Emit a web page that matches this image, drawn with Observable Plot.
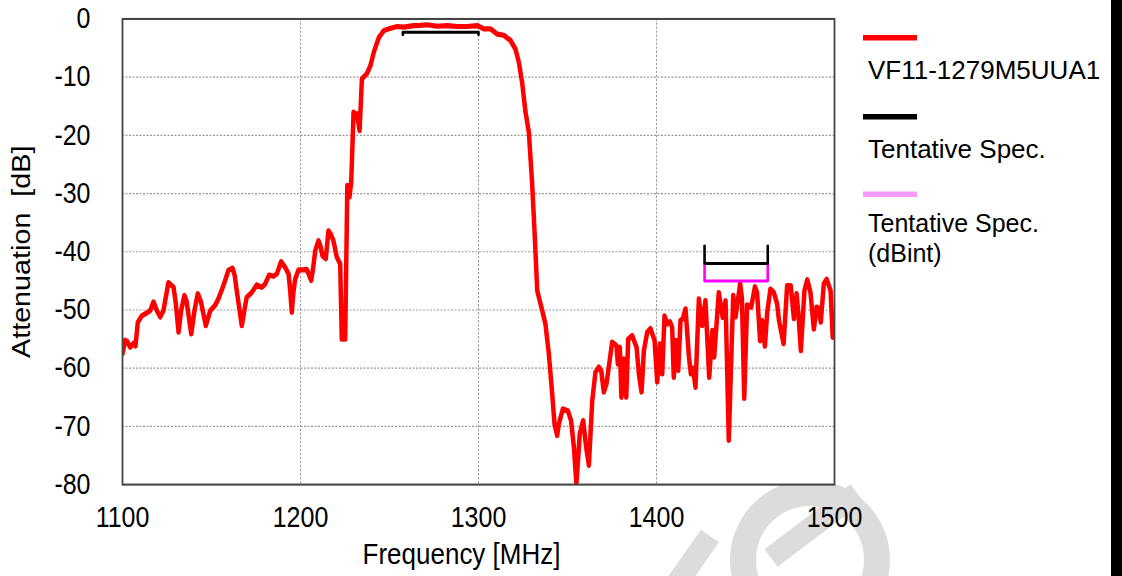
<!DOCTYPE html>
<html><head><meta charset="utf-8">
<script src="https://cdn.jsdelivr.net/npm/d3@7"></script>
<script src="https://cdn.jsdelivr.net/npm/@observablehq/plot@0.6"></script>
<style>
html,body{margin:0;padding:0;background:#fff;}
#wrap{position:relative;width:1122px;height:576px;overflow:hidden;font-family:"Liberation Sans",Arial,sans-serif;}
#wm,#chart,#legend{position:absolute;left:0;top:0;}
#bar{position:absolute;left:1111px;top:0;width:11px;height:576px;background:#000;}
</style></head><body>
<div id="wrap">
<svg id="wm" width="1122" height="576">
  <g stroke="#dcdcdc" fill="none">
    <circle cx="810" cy="560" r="67" stroke-width="26"/>
    <line x1="857" y1="493" x2="771" y2="558" stroke-width="22"/>
    <line x1="672" y1="590" x2="710" y2="536" stroke-width="22"/>
  </g>
</svg>
<div id="chart"></div>
<svg id="legend" width="1122" height="576"></svg>
<div id="bar"></div>
</div>
<script>
// Measured curve: VF11-1279M5UUA1
const freq = [
 1100,1101.5,1102.6,1104.3,1106.2,1107.3,1108.6,1110.9,1113.7,1115.6,
 1117.4,1119.3,1121.2,1123.0,1125.8,1128.7,1130.0,1131.5,1133.0,1134.8,
 1136.0,1138.6,1140.5,1142.3,1144.0,1146.8,1149.3,1152.0,1154.0,1156.7,
 1159.5,1161.8,1163.0,1164.2,1167.0,1168.5,1169.8,1172.6,1175.4,1178.2,
 1180.0,1182.4,1184.8,1186.7,1189.1,1191.4,1193.3,1194.3,1195.1,1196.0,
 1197.0,1198.9,1201.7,1203.5,1206.0,1207.0,1208.3,1210.1,1211.2,1212.4,
 1214.2,1215.7,1217.0,1218.5,1220.4,1222.3,1223.2,1225.1,1226.0,1226.3,
 1227.5,1228.5,1229.8,1231.0,1231.7,1233.2,1234.5,1237.3,1239.3,1241.2,
 1244.0,1246.8,1250.6,1254.3,1258.1,1263.7,1267.0,1271.2,1276.8,1282.4,
 1288.0,1293.6,1299.3,1303.0,1306.8,1310.5,1314.2,1318.0,1320.8,1322.7,
 1324.5,1326.4,1328.3,1330.1,1331.5,1333.0,1335.8,1337.6,1339.5,1341.4,
 1342.7,1344.2,1345.1,1347.4,1350.2,1352.0,1353.6,1355.0,1356.9,1358.8,
 1360.5,1362.0,1363.9,1365.7,1367.6,1369.0,1370.4,1371.9,1373.2,1375.1,
 1377.5,1378.3,1379.4,1380.3,1381.6,1383.0,1384.1,1386.3,1388.8,1390.1,
 1391.6,1392.9,1394.8,1396.6,1398.9,1400.4,1401.9,1403.2,1404.5,1406.0,
 1407.5,1408.8,1409.7,1411.0,1412.2,1413.5,1414.8,1416.3,1418.2,1419.3,
 1420.5,1421.9,1423.8,1425.7,1427.5,1429.6,1431.4,1432.4,1435.0,1437.2,
 1438.8,1440.6,1443.1,1444.4,1447.0,1448.0,1449.3,1450.9,1453.2,1455.3,
 1456.5,1458.2,1459.4,1460.9,1462.2,1464.0,1465.9,1467.8,1468.8,1471.4,
 1473.4,1475.4,1477.2,1478.7,1479.8,1481.1,1483.1,1484.7,1486.5,1488.4,
 1489.9,1490.8,1492.3,1494.0,1495.6,1497.8,1499.0,1500.0
];
const atten = [
 -57.5,-55.2,-55.4,-56.4,-55.7,-56.2,-52.1,-51.0,-50.5,-50.1,
 -48.6,-50.1,-51.2,-50.1,-45.3,-46.1,-49.0,-53.8,-50.0,-47.5,
 -48.5,-54.1,-50.0,-47.2,-48.5,-52.7,-50.1,-49.2,-48.0,-45.8,
 -43.2,-42.8,-44.0,-46.7,-52.7,-50.0,-47.8,-47.0,-45.7,-46.1,
 -45.6,-44.0,-44.2,-43.8,-41.7,-42.7,-43.8,-47.0,-50.4,-47.0,
 -44.7,-43.1,-43.1,-43.0,-44.9,-43.0,-39.8,-38.1,-39.0,-40.7,
 -41.2,-36.4,-37.0,-38.1,-40.9,-42.1,-55.0,-55.0,-35.5,-28.6,
 -30.6,-28.0,-16.0,-16.5,-16.3,-19.2,-10.3,-9.4,-8.0,-5.7,
 -3.2,-2.0,-1.6,-1.3,-1.4,-1.15,-1.1,-1.0,-1.25,-1.15,
 -1.3,-1.3,-1.15,-1.7,-1.7,-2.6,-2.8,-3.7,-5.2,-7.5,
 -10.9,-16.0,-19.5,-28.1,-36.6,-46.7,-50.1,-52.4,-57.5,-64.4,
 -69.6,-71.6,-69.6,-67.0,-67.3,-69.0,-73.6,-79.9,-71.3,-69.0,
 -73.6,-76.7,-65.6,-60.7,-59.8,-60.5,-64.1,-62.7,-59.8,-55.5,
 -56.1,-59.3,-56.4,-65.0,-58.4,-65.0,-55.0,-54.4,-56.4,-61.0,
 -64.1,-57.0,-53.8,-53.2,-55.2,-62.4,-55.8,-61.0,-51.0,-52.4,
 -52.0,-53.0,-61.6,-55.2,-60.4,-51.8,-51.5,-49.8,-58.0,-61.0,
 -60.0,-63.3,-48.1,-52.7,-48.4,-61.6,-53.5,-58.1,-47.0,-51.3,
 -48.4,-72.4,-47.5,-51.2,-45.5,-48.0,-65.2,-49.1,-49.5,-46.0,
 -47.0,-55.3,-51.8,-56.2,-50.4,-46.4,-47.0,-49.0,-51.8,-55.8,
 -45.8,-45.8,-51.5,-47.2,-51.0,-57.0,-46.7,-44.8,-47.0,-53.3,
 -49.5,-49.6,-52.1,-45.5,-44.7,-46.7,-54.7,-54.5
];
// Tentative specs
const passSpecFreq = [1257.5, 1300];
const passSpecLevel = -2.3;
const passSpecTick = -2.7;
const stopSpecFreq = [1427, 1462.5];
const stopSpecLevel = -42;
const stopSpecTop = -39;
const stopSpecIntLevel = -45;
// Axes
const xTicks = [1100, 1200, 1300, 1400, 1500];
const yTicks = [0, -10, -20, -30, -40, -50, -60, -70, -80];
const xLabel = "Frequency [MHz]";
const yLabel = "Attenuation\u00a0 [dB]";
// Legend
const legendNames = [["VF11-1279M5UUA1"], ["Tentative Spec."], ["Tentative Spec.", "(dBint)"]];
const legendColors = ["#ff0000", "#000000", "#ff99ff"];

const curve = freq.map((f, i) => ({f, a: atten[i]}));
const passSpec = [
  {f: passSpecFreq[0], a: passSpecTick}, {f: passSpecFreq[0], a: passSpecLevel},
  {f: passSpecFreq[1], a: passSpecLevel}, {f: passSpecFreq[1], a: passSpecTick}];
const stopSpec = [
  {f: stopSpecFreq[0], a: stopSpecTop}, {f: stopSpecFreq[0], a: stopSpecLevel},
  {f: stopSpecFreq[1], a: stopSpecLevel}, {f: stopSpecFreq[1], a: stopSpecTop}];
const stopSpecInt = [
  {f: stopSpecFreq[0], a: stopSpecLevel}, {f: stopSpecFreq[0], a: stopSpecIntLevel},
  {f: stopSpecFreq[1], a: stopSpecIntLevel}, {f: stopSpecFreq[1], a: stopSpecLevel}];

const W = 1122, H = 501, DISPLAY_H = 576;
const font = "Liberation Sans, Arial, sans-serif";
const gridStyle = {stroke: "#999", strokeDasharray: "2,1.5", strokeWidth: 1};

const svg = Plot.plot({
  width: W, height: H,
  marginLeft: 122, marginRight: 288, marginTop: 16, marginBottom: 80,
  x: {domain: [1100, 1500]},
  y: {domain: [-80, 0]},
  style: {fontFamily: font, fontSize: "25px", background: "transparent", color: "#000"},
  marks: [
    Plot.frame({fill: "white", stroke: null}),
    Plot.ruleY(yTicks.filter(d => d !== 0 && d !== -80), gridStyle),
    Plot.ruleX(xTicks.filter(d => d !== 1100 && d !== 1500), gridStyle),
    Plot.line(curve, {x: "f", y: "a", stroke: "#ff0000", strokeWidth: 4.5,
      strokeLinejoin: "round", strokeLinecap: "round", clip: true}),
    Plot.line(stopSpecInt, {x: "f", y: "a", stroke: "#ff00ff", strokeWidth: 2.6}),
    Plot.line(stopSpec, {x: "f", y: "a", stroke: "#000", strokeWidth: 2.6}),
    Plot.line(passSpec, {x: "f", y: "a", stroke: "#000", strokeWidth: 2.6}),
    Plot.frame({stroke: "#444", strokeWidth: 1.8}),
    Plot.axisX(xTicks, {tickSize: 0, tickPadding: 19, label: null, fontSize: 25, tickFormat: d => String(d)}),
    Plot.axisY(yTicks, {tickSize: 0, tickPadding: 32, label: null, fontSize: 25, tickFormat: d => String(d)}),
    Plot.text([xLabel], {text: d => d, frameAnchor: "bottom", dy: 61, dx: -17, lineAnchor: "middle", fontSize: 26}),
    Plot.text([yLabel], {text: d => d, frameAnchor: "left", dx: -110, rotate: -90, textAnchor: "middle", lineAnchor: "top", fontSize: 25})
  ]
});
svg.setAttribute("preserveAspectRatio", "none");
svg.setAttribute("height", DISPLAY_H);
svg.style.width = W + "px";
svg.style.height = DISPLAY_H + "px";
svg.style.maxWidth = "none";
document.getElementById("chart").appendChild(svg);

// Legend (unstretched)
const lg = d3.select("#legend");
const lineY = [37.7, 116.7, 194.3];
legendNames.forEach((lines, i) => {
  lg.append("line").attr("x1", 863).attr("x2", 917).attr("y1", lineY[i]).attr("y2", lineY[i])
    .attr("stroke", legendColors[i]).attr("stroke-width", 5.5);
  lines.forEach((s, j) => {
    lg.append("text").attr("x", 868).attr("y", lineY[i] + (lines.length > 1 ? 38 : 41) + j * 29.5)
      .attr("font-family", font).attr("font-size", lines.length > 1 ? 25 : 26).attr("fill", "#000").text(s);
  });
});
</script>
</body></html>
